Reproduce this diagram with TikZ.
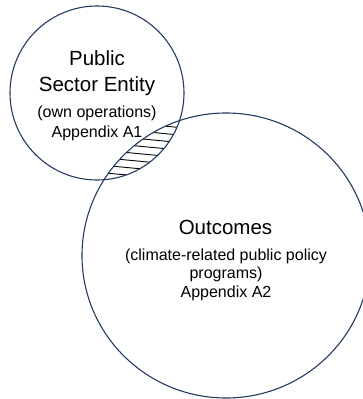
\documentclass[tikz,border=0pt]{standalone}
\usepackage{fontspec}
\setmainfont{Liberation Sans}
\usetikzlibrary{shapes.geometric}
\definecolor{ringblue}{RGB}{35,58,96}
\tikzset{
  ring/.style={draw=ringblue, line width=1.1pt, fill=none, inner sep=0pt, outer sep=0pt},
  titletext/.style={anchor=base, font=\fontsize{20.5}{24}\selectfont, inner sep=0pt},
  subtext/.style={anchor=base, font=\fontsize{16}{18}\selectfont, inner sep=0pt},
  hatchline/.style={draw=black, line width=0.9pt}
}
\begin{document}
\begin{tikzpicture}[x=1pt,y=-1pt]
\useasboundingbox (0,0) rectangle (363,399);
\clip (0,0) rectangle (363,399);
% hatching in the overlap
\begin{scope}
  \clip (97,93) circle (87);
  \clip (226,255.5) ellipse (144 and 142.5);
  \foreach \yy in {112,119.5,...,185} {
    \draw[hatchline] (95,\yy) -- (190,\yy+9);
  }
\end{scope}
% circles
\node[ring, circle, minimum size=174pt] (entity) at (97,93) {};
\node[ring, ellipse, minimum width=288pt, minimum height=285pt] (outcomes) at (226,255.5) {};
% texts
\node[titletext] (t1) at (97,65) {Public};
\node[titletext] (t2) at (97,91) {Sector Entity};
\node[subtext] (t3) at (97,117.5) {(own operations)};
\node[subtext] (t4) at (97,137) {Appendix A1};
\node[titletext] (o1) at (225.5,234) {Outcomes};
\node[subtext] (o2) at (226,260) {(climate-related public policy};
\node[subtext] (o3) at (226,278.5) {programs)};
\node[subtext] (o4) at (226,297) {Appendix A2};
\end{tikzpicture}
\end{document}
